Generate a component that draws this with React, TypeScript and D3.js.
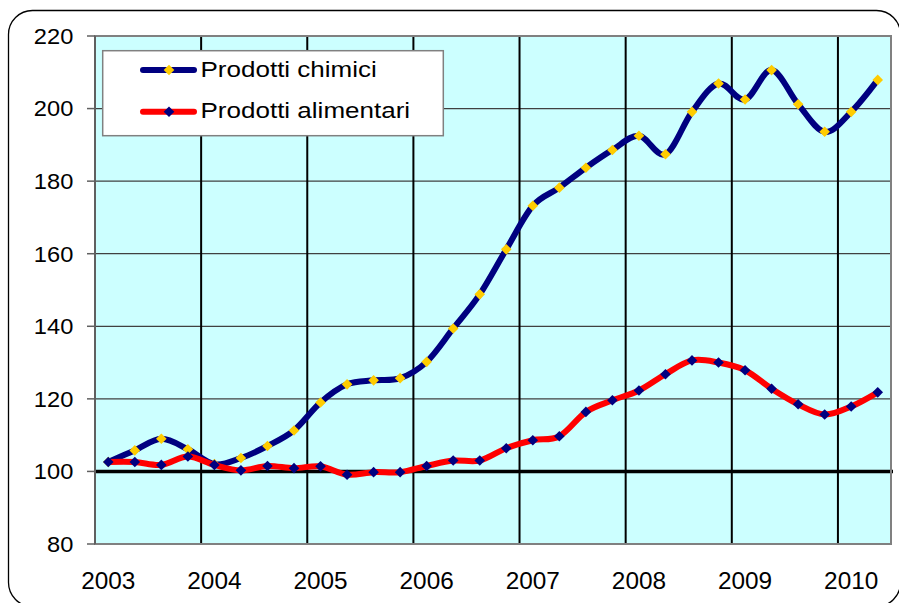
import React from "react";
import * as d3 from "d3";

const categories: string[] = [
  "2003Q1","2003Q2","2003Q3","2003Q4",
  "2004Q1","2004Q2","2004Q3","2004Q4",
  "2005Q1","2005Q2","2005Q3","2005Q4",
  "2006Q1","2006Q2","2006Q3","2006Q4",
  "2007Q1","2007Q2","2007Q3","2007Q4",
  "2008Q1","2008Q2","2008Q3","2008Q4",
  "2009Q1","2009Q2","2009Q3","2009Q4",
  "2010Q1","2010Q2",
];

const chimici: number[] = [
  102.6, 105.8, 109.0, 106.1,
  102.0, 103.7, 107.0, 111.3,
  119.0, 124.0, 125.1, 125.7,
  130.2, 139.4, 148.8, 161.2,
  173.2, 178.2, 183.7, 188.6,
  192.5, 187.4, 199.1, 206.9,
  202.5, 210.6, 201.2, 193.6,
  199.1, 207.9,
];

const alimentari: number[] = [
  102.6, 102.6, 101.8, 104.1,
  101.8, 100.3, 101.5, 100.9,
  101.4, 99.1, 99.8, 99.8,
  101.5, 103.0, 103.0, 106.4,
  108.6, 109.7, 116.4, 119.6,
  122.3, 126.8, 130.6, 130.0,
  127.9, 122.8, 118.5, 115.7,
  117.9, 121.8,
];

const yTicks: number[] = [80, 100, 120, 140, 160, 180, 200, 220];
const yearLabels: string[] = ["2003", "2004", "2005", "2006", "2007", "2008", "2009", "2010"];
const seriesNames: string[] = ["Prodotti chimici", "Prodotti alimentari"];

const FONT = "'Liberation Sans', Arial, sans-serif";

function diamond(cx: number, cy: number, r: number) {
  return `M${cx},${cy - r}L${cx + r},${cy}L${cx},${cy + r}L${cx - r},${cy}Z`;
}

export default function App() {
  const W = 899, H = 603;
  const left = 95, right = 891, top = 36, bottom = 544;

  const x = d3.scaleBand<string>().domain(categories).range([left, right]).padding(0);
  const bw = x.bandwidth();
  const cx = (c: string) => (x(c) as number) + bw / 2;
  const y = d3.scaleLinear().domain([80, 220]).range([bottom, top]);

  const line = d3
    .line<number>()
    .x((_, i) => cx(categories[i]))
    .y((d) => y(d))
    .curve(d3.curveCatmullRom.alpha(0));

  const yearIdx = yearLabels.map((_, i) => i * 4);

  const txt = (
    s: string,
    tx: number,
    ty: number,
    anchor: "start" | "middle" | "end",
    size: number,
    sx: number,
    key?: string
  ) => (
    <text
      key={key}
      transform={`translate(${tx},${ty}) scale(${sx},1)`}
      textAnchor={anchor}
      fontFamily={FONT}
      fontSize={size}
      fill="#000"
    >
      {s}
    </text>
  );

  return (
    <svg
      width={W}
      height={H}
      style={{ position: "absolute", left: 0, top: 0, display: "block" }}
    >
      <rect x={0} y={0} width={W} height={H} fill="#fff" />
      <rect x={8.5} y={10.5} width={892} height={596} rx={24} ry={24} fill="#fff" stroke="#000" strokeWidth={1.3} />

      {/* plot area */}
      <rect x={left} y={top} width={right - left} height={bottom - top} fill="#CCFFFF" />

      {/* horizontal gridlines */}
      {yTicks
        .filter((t) => t !== 80 && t !== 100 && t !== 220)
        .map((t) => (
          <line key={"h" + t} x1={left} x2={right} y1={y(t)} y2={y(t)} stroke="#404040" strokeWidth={1.3} />
        ))}

      {/* vertical year separators */}
      {yearIdx.slice(1).map((i) => (
        <line
          key={"v" + i}
          x1={x(categories[i]) as number}
          x2={x(categories[i]) as number}
          y1={top}
          y2={bottom}
          stroke="#000"
          strokeWidth={2}
        />
      ))}

      {/* 100 reference line */}
      <line x1={left} x2={right + 2} y1={y(100)} y2={y(100)} stroke="#000" strokeWidth={3.5} />

      {/* plot border */}
      <rect x={left} y={top} width={right - left} height={bottom - top} fill="none" stroke="#808080" strokeWidth={2} />
      <line x1={left} x2={left} y1={top} y2={bottom} stroke="#606060" strokeWidth={2} />

      {/* y ticks and labels */}
      {yTicks.map((t) => (
        <g key={"t" + t}>
          <line x1={left - 8} x2={left} y1={y(t)} y2={y(t)} stroke="#606060" strokeWidth={1.5} />
          {txt(String(t), 73.3, y(t) + 7.8, "end", 21.5, 1.1)}
        </g>
      ))}

      {/* x labels */}
      {yearIdx.map((i, k) => txt(yearLabels[k], cx(categories[i]), 588.5, "middle", 23, 1.06, "x" + k))}

      {/* series lines */}
      <path d={line(chimici) || ""} fill="none" stroke="#000080" strokeWidth={6} strokeLinejoin="round" />
      {chimici.map((v, i) => (
        <path key={"mc" + i} d={diamond(cx(categories[i]), y(v), 5.3)} fill="#FFCC00" />
      ))}
      <path d={line(alimentari) || ""} fill="none" stroke="#FF0000" strokeWidth={6} strokeLinejoin="round" />
      {alimentari.map((v, i) => (
        <path key={"ma" + i} d={diamond(cx(categories[i]), y(v), 5.3)} fill="#000080" />
      ))}

      {/* legend */}
      <rect x={102.7} y={50.7} width={340.6} height={85} fill="#fff" stroke="#808080" strokeWidth={1.5} />
      <line x1={143} x2={194} y1={70} y2={70} stroke="#000080" strokeWidth={6} strokeLinecap="round" />
      <path d={diamond(169, 70, 5.3)} fill="#FFCC00" />
      {txt(seriesNames[0], 200.5, 76.7, "start", 21.5, 1.21)}
      <line x1={143} x2={194} y1={111.7} y2={111.7} stroke="#FF0000" strokeWidth={6} strokeLinecap="round" />
      <path d={diamond(169, 111.7, 5.3)} fill="#000080" />
      {txt(seriesNames[1], 200.5, 118.3, "start", 21.5, 1.21)}
    </svg>
  );
}
